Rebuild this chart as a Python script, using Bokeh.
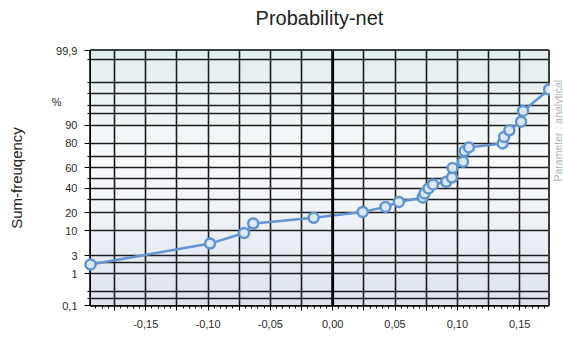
import numpy as np
from statistics import NormalDist
from bokeh.plotting import figure
from bokeh.layouts import row
from bokeh.core.properties import value
from bokeh.models import FixedTicker, CustomJSTickFormatter, Span, Range1d, LinearAxis
from bokeh.embed import file_html
from bokeh.resources import INLINE

# ---- data ----
values = [-0.1943, -0.0984, -0.0711, -0.0638, -0.0153, 0.0241, 0.0423, 0.0531,
          0.0723, 0.0736, 0.0768, 0.0804, 0.0911, 0.0957, 0.0961, 0.1045,
          0.1058, 0.1093, 0.1363, 0.1375, 0.1417, 0.1511, 0.1527, 0.1736]
sum_freq_pct = [1.8, 5.6, 9.1, 13.5, 16.7, 20.5, 24.2, 28.1,
                31.8, 35.4, 40.0, 43.8, 46.3, 50.5, 59.5, 65.3,
                74.3, 77.1, 79.9, 84.0, 87.6, 91.4, 94.8, 98.4]

y_label_pct = [0.1, 1, 3, 10, 20, 40, 60, 80, 90, 99.9]
y_label_txt = ["0,1", "1", "3", "10", "20", "40", "60", "80", "90", "99,9"]
y_minor_pct = [0.18, 0.3, 2, 30, 50, 70, 94, 96, 98, 99, 99.8]
unit_label_pct = 96.8          # where the "%" sits

x_ticks = [-0.175, -0.15, -0.125, -0.10, -0.075, -0.05, -0.025, 0.0,
           0.025, 0.05, 0.075, 0.10, 0.125, 0.15]

title_text = "Probability-net"
y_title = "Sum-freuqency"
note_text = "Parameter : analytical"

nd = NormalDist()
def z(p):
    return nd.inv_cdf(p / 100.0)

ys = [z(p) for p in sum_freq_pct]
y_major = [z(p) for p in y_label_pct]
y_minor = [z(p) for p in y_minor_pct]
x_minor = [round(v, 3) for v in np.arange(-0.19, 0.1725, 0.005)]

W, H = 550, 337
x0, x1 = -0.1943, 0.1731
y0, y1 = z(0.1), z(99.9)
font = "Liberation Sans"

p = figure(width=W, height=H, output_backend="svg", toolbar_location=None,
           x_range=Range1d(x0, x1), y_range=Range1d(y0, y1),
           min_border_left=90, min_border_right=2, min_border_top=50,
           min_border_bottom=32, background_fill_color="white",
           border_fill_color="white")

# gradient background of the plot area
N = 200
t = np.linspace(0, 1, N)  # 0 = bottom, 1 = top
top = np.array([226, 238, 238]); mid = np.array([249, 250, 252]); bot = np.array([222, 228, 238])
cols = np.zeros((N, 3))
for i, tt in enumerate(t):
    if tt < 0.55:
        f = tt / 0.55
        cols[i] = bot * (1 - f) + mid * f
    else:
        f = (tt - 0.55) / 0.45
        cols[i] = mid * (1 - f) + top * f
img = np.zeros((N, 1), dtype=np.uint32)
view = img.view(dtype=np.uint8).reshape((N, 1, 4))
view[:, 0, 0] = cols[:, 0]; view[:, 0, 1] = cols[:, 1]; view[:, 0, 2] = cols[:, 2]; view[:, 0, 3] = 255
p.image_rgba(image=[img], x=x0, y=y0, dw=x1 - x0, dh=y1 - y0, level="image")

grid_col = "#1c1c1c"
p.xgrid.grid_line_color = grid_col
p.xgrid.grid_line_width = 1.6
p.ygrid.grid_line_color = grid_col
p.ygrid.grid_line_width = 1.6
p.ygrid.minor_grid_line_color = grid_col
p.ygrid.minor_grid_line_width = 1.6
p.ygrid.level = "underlay"
p.xgrid.level = "underlay"
p.add_layout(Span(location=0, dimension="height", line_color="black", line_width=2.8))

p.outline_line_color = "black"
p.outline_line_width = 2.5

# axes
p.xaxis.ticker = FixedTicker(ticks=x_ticks, minor_ticks=x_minor)
p.xaxis.formatter = CustomJSTickFormatter(code="""
    const v = Math.round(tick*1000);
    if (Math.abs(v) % 50 != 0) { return ""; }
    return (v/1000).toFixed(2).replace('.', ',');
""")
p.yaxis.ticker = FixedTicker(ticks=y_major, minor_ticks=y_minor)
p.yaxis.formatter = CustomJSTickFormatter(args=dict(labels=y_label_txt), code="return labels[index];")
for ax in (p.xaxis[0], p.yaxis[0]):
    ax.axis_line_color = "black"
    ax.major_tick_line_color = "black"
    ax.minor_tick_line_color = "black"
    ax.major_tick_in = 0
    ax.minor_tick_in = 0
    ax.major_label_text_font = font
    ax.major_label_text_font_size = "11px"
    ax.major_label_text_color = "#2a2a2a"
p.xaxis.major_tick_out = 5
p.xaxis.minor_tick_out = 3
p.xaxis.major_label_standoff = 9
p.yaxis.major_tick_out = 6
p.yaxis.minor_tick_out = 3
p.yaxis.major_label_standoff = 7

# "%" unit axis with the axis title (outer left)
unit_ax = LinearAxis(ticker=FixedTicker(ticks=[z(unit_label_pct)], minor_ticks=[]),
                     formatter=CustomJSTickFormatter(code="return '%';"),
                     axis_line_color=None, major_tick_line_color=None, minor_tick_line_color=None,
                     major_tick_out=0, major_tick_in=0, major_label_standoff=-8,
                     major_label_text_font=font, major_label_text_font_size="11px",
                     major_label_text_color="#2a2a2a",
                     axis_label=y_title, axis_label_text_font=font,
                     axis_label_text_font_size="15px", axis_label_text_font_style="normal",
                     axis_label_text_color="#222222", axis_label_standoff=24)
p.add_layout(unit_ax, "left")

# chart title as the label of a tick-less top axis
title_ax = LinearAxis(ticker=FixedTicker(ticks=[], minor_ticks=[]),
                      axis_line_color=None, major_tick_line_color=None, minor_tick_line_color=None,
                      major_tick_out=0, major_tick_in=0, minor_tick_out=0, minor_tick_in=0,
                      major_label_standoff=0,
                      axis_label=title_text, axis_label_text_font=font,
                      axis_label_text_font_size="20px", axis_label_text_font_style="normal",
                      axis_label_text_color="#222222", axis_label_standoff=22)
p.add_layout(title_ax, "above")

# data
line_col = "#5f94d0"
p.line(values, ys, line_color=line_col, line_width=2.5)
p.scatter(values, ys, marker="circle", size=10, fill_color="#dde8f5",
          line_color=line_col, line_width=2.5, level="overlay")

# narrow strip on the right carrying the vertical note
q = figure(width=13, height=H, output_backend="svg", toolbar_location=None,
           x_range=Range1d(0, 13), y_range=Range1d(0, H), min_border=0,
           x_axis_type=None, y_axis_type=None, outline_line_color=None,
           background_fill_color="white", border_fill_color="white")
q.xgrid.visible = False
q.ygrid.visible = False
q.text(x=[7.7], y=[H - 106], text=[note_text], angle=np.pi / 2,
       text_font=value(font), text_font_size=value("10.5px"), text_color="#b4b4b4",
       text_align="center", text_baseline="middle")

layout = row(p, q, spacing=0)
open("out.html", "w").write(file_html(layout, INLINE))
